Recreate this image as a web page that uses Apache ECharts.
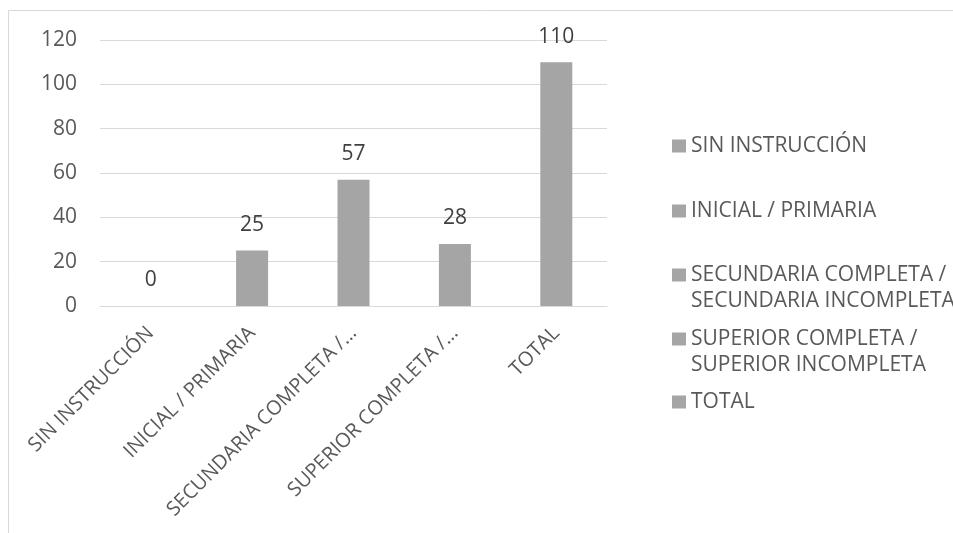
<!DOCTYPE html>
<html>
<head>
<meta charset="utf-8">
<script src="https://cdn.jsdelivr.net/npm/echarts@6/dist/echarts.min.js"></script>
<style>html,body{margin:0;padding:0;background:#fff}#c{width:953px;height:533px}</style>
</head>
<body>
<div id="c"></div>
<script>
// Data
const categories = ['SIN INSTRUCCIÓN', 'INICIAL / PRIMARIA', 'SECUNDARIA COMPLETA / SECUNDARIA INCOMPLETA', 'SUPERIOR COMPLETA / SUPERIOR INCOMPLETA', 'TOTAL'];
const values = [0, 25, 57, 28, 110];
const axisTickLabels = ['SIN INSTRUCCIÓN', 'INICIAL / PRIMARIA', 'SECUNDARIA COMPLETA /…', 'SUPERIOR COMPLETA /…', 'TOTAL'];
const legendLines = [['SIN INSTRUCCIÓN'], ['INICIAL / PRIMARIA'], ['SECUNDARIA COMPLETA /', 'SECUNDARIA INCOMPLETA'], ['SUPERIOR COMPLETA /', 'SUPERIOR INCOMPLETA'], ['TOTAL']];
const yTicks = [0, 20, 40, 60, 80, 100, 120];

const FONT = 'Open Sans';
const FS = 21;
const LH = 26;
const legendCenters = [146, 211, 275, 339, 402];

const chart = echarts.init(document.getElementById('c'), null, {renderer: 'canvas'});

const series = categories.map((name, i) => ({
  name: name,
  type: 'bar',
  stack: 'all',
  barWidth: 32,
  itemStyle: {color: '#a5a5a5'},
  label: {
    show: true, position: 'top', distance: 15,
    color: '#404040', fontFamily: FONT, fontSize: FS
  },
  data: values.map((v, j) => (j === i ? v : '-'))
}));

const legends = categories.map((name, i) => {
  const lines = legendLines[i];
  const multi = lines.length > 1;
  // leading empty line keeps the first text line level with the icon
  const text = multi ? '\n' + lines.join('\n') : lines[0];
  return {
    data: [name],
    orient: 'vertical',
    left: 672,
    top: legendCenters[i] - (multi ? 1.5 * LH : 0.5 * LH),
    padding: 0,
    itemWidth: 14,
    itemHeight: 13,
    itemGap: 0,
    icon: 'rect',
    selectedMode: false,
    formatter: () => text,
    textStyle: {
      color: '#595959', fontFamily: FONT, fontSize: FS, lineHeight: LH
    }
  };
});

chart.setOption({
  animation: false,
  backgroundColor: '#ffffff',
  graphic: [{
    type: 'rect', silent: true,
    shape: {x: 8.5, y: 10.5, width: 1000, height: 600},
    style: {fill: 'none', stroke: '#d9d9d9', lineWidth: 1}
  }],
  grid: {left: 100, right: 346, top: 40, bottom: 227, containLabel: false},
  legend: legends,
  xAxis: {
    type: 'category',
    data: categories,
    axisLine: {lineStyle: {color: '#d9d9d9', width: 1}},
    axisTick: {show: false},
    axisLabel: {
      interval: 0, rotate: 45, margin: 24,
      color: '#595959', fontFamily: FONT, fontSize: 20,
      formatter: (v, idx) => axisTickLabels[idx]
    }
  },
  yAxis: {
    type: 'value',
    min: yTicks[0], max: yTicks[yTicks.length - 1], interval: 20,
    axisLine: {show: false},
    axisTick: {show: false},
    splitLine: {lineStyle: {color: '#d9d9d9', width: 1}},
    axisLabel: {margin: 23, color: '#595959', fontFamily: FONT, fontSize: FS}
  },
  series: series
});
</script>
</body>
</html>
